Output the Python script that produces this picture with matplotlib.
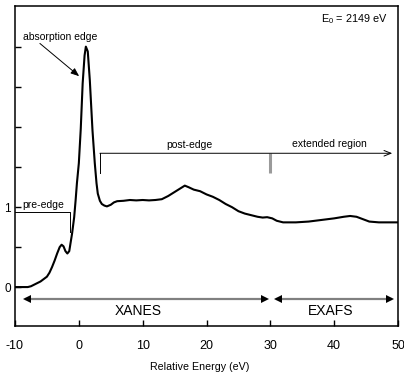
import matplotlib
matplotlib.use("Agg")
import matplotlib.pyplot as plt

plt.rcParams['font.family'] = ['Liberation Sans', 'DejaVu Sans']
plt.rcParams['mathtext.default'] = 'regular'
plt.rcParams['axes.unicode_minus'] = False

# ---- data ----
energy = [-10, -9, -8, -7.5, -7, -6.5, -6, -5.5, -5, -4.6, -4.2, -3.8, -3.4, -3.0,
          -2.7, -2.4, -2.1, -1.8, -1.5, -1.05, -0.73, -0.5, -0.3, 0.0, 0.3, 0.6,
          0.9, 1.1, 1.4, 1.72, 2.14, 2.5, 2.77, 2.97, 3.3, 3.6, 4.0, 4.4, 5.0,
          5.5, 6.0, 7, 8, 9, 10, 11, 12, 13, 14, 15, 16, 16.6, 17.2, 18, 19, 20,
          21, 22, 23, 24, 25, 26, 27, 28, 28.8, 29.5, 30.3, 31, 32, 34, 36, 38,
          40, 41.5, 42.5, 43.5, 44.5, 45.5, 47, 50]
absorb = [0.0, 0.0, 0.0, 0.01, 0.03, 0.05, 0.07, 0.10, 0.13, 0.18, 0.25, 0.33,
          0.42, 0.50, 0.53, 0.51, 0.45, 0.42, 0.45, 0.675, 0.875, 1.09, 1.30,
          1.55, 1.98, 2.55, 2.90, 3.01, 2.95, 2.59, 1.96, 1.55, 1.30, 1.17, 1.08,
          1.04, 1.02, 1.01, 1.03, 1.06, 1.075, 1.08, 1.09, 1.085, 1.09, 1.085,
          1.09, 1.10, 1.14, 1.19, 1.24, 1.27, 1.25, 1.22, 1.20, 1.16, 1.13, 1.09,
          1.04, 1.00, 0.95, 0.92, 0.90, 0.88, 0.87, 0.875, 0.86, 0.83, 0.81, 0.81,
          0.82, 0.84, 0.86, 0.88, 0.89, 0.88, 0.85, 0.82, 0.81, 0.81]

xticks = [-10, 0, 10, 20, 30, 40, 50]
yticks = [0, 0.5, 1, 1.5, 2, 2.5, 3]
ytick_labels = ['0', '', '1', '', '', '', '']

fig = plt.figure(figsize=(4.04, 3.84), dpi=100)
ax = fig.add_axes([15/404, 58/384, 383/404, 320.5/384])

ax.plot(energy, absorb, color='black', lw=1.5, solid_joinstyle='round')

ax.set_xlim(-10, 50)
ax.set_ylim(-0.4875, 3.525)
ax.set_xticks(xticks)
ax.set_yticks(yticks)
ax.set_yticklabels(ytick_labels)
ax.tick_params(axis='x', direction='in', length=4.5, width=1.0, labelsize=9, pad=10)
ax.tick_params(axis='y', direction='in', length=4, width=1.0, labelsize=8.5, pad=3)
for s in ax.spines.values():
    s.set_linewidth(1.1)
ax.set_xlabel('Relative Energy (eV)', fontsize=7.7)
ax.xaxis.set_label_coords(0.483, -0.112)

# E0 label
ax.text(43.1, 3.36, r'E$_0$ = 2149 eV', fontsize=7.8, ha='center', va='center')

# absorption edge
ax.text(-2.9, 3.125, 'absorption edge', fontsize=7.5, ha='center', va='center')
ax.annotate('', xy=(0.05, 2.64), xytext=(-6.1, 3.05),
            arrowprops=dict(arrowstyle='-|>,head_length=0.5,head_width=0.2',
                            color='black', lw=0.7, shrinkA=0, shrinkB=0))

# pre-edge bracket
ax.plot([-10, -1.4, -1.4], [0.94, 0.94, 0.69], color='black', lw=0.7)
ax.text(-8.9, 1.03, 'pre-edge', fontsize=7.5, ha='left', va='center')

# post-edge / extended region bracket
ax.plot([3.3, 3.3], [1.425, 1.675], color='black', lw=0.7)
ax.annotate('', xy=(49.1, 1.675), xytext=(3.3, 1.675),
            arrowprops=dict(arrowstyle='->,head_length=0.5,head_width=0.2',
                            color='black', lw=0.7, shrinkA=0, shrinkB=0))
ax.plot([30, 30], [1.425, 1.675], color='#9a9a9a', lw=2.2, solid_capstyle='butt')
ax.text(17.3, 1.78, 'post-edge', fontsize=7.5, ha='center', va='center')
ax.text(39.2, 1.79, 'extended region', fontsize=7.5, ha='center', va='center')

# XANES / EXAFS double arrows
arr_y = -0.15
for x0, x1 in [(-8.7, 29.7), (30.6, 49.4)]:
    ax.plot([x0 + 0.5, x1 - 0.5], [arr_y, arr_y], color='#808080', lw=1.6)
    ax.plot([x0 + 0.6], [arr_y], marker='<', color='black', ms=6, mew=0)
    ax.plot([x1 - 0.6], [arr_y], marker='>', color='black', ms=6, mew=0)
ax.text(9.27, -0.30, 'XANES', fontsize=10, ha='center', va='center')
ax.text(39.5, -0.30, 'EXAFS', fontsize=10, ha='center', va='center')

fig.savefig('out.png', dpi=100)
